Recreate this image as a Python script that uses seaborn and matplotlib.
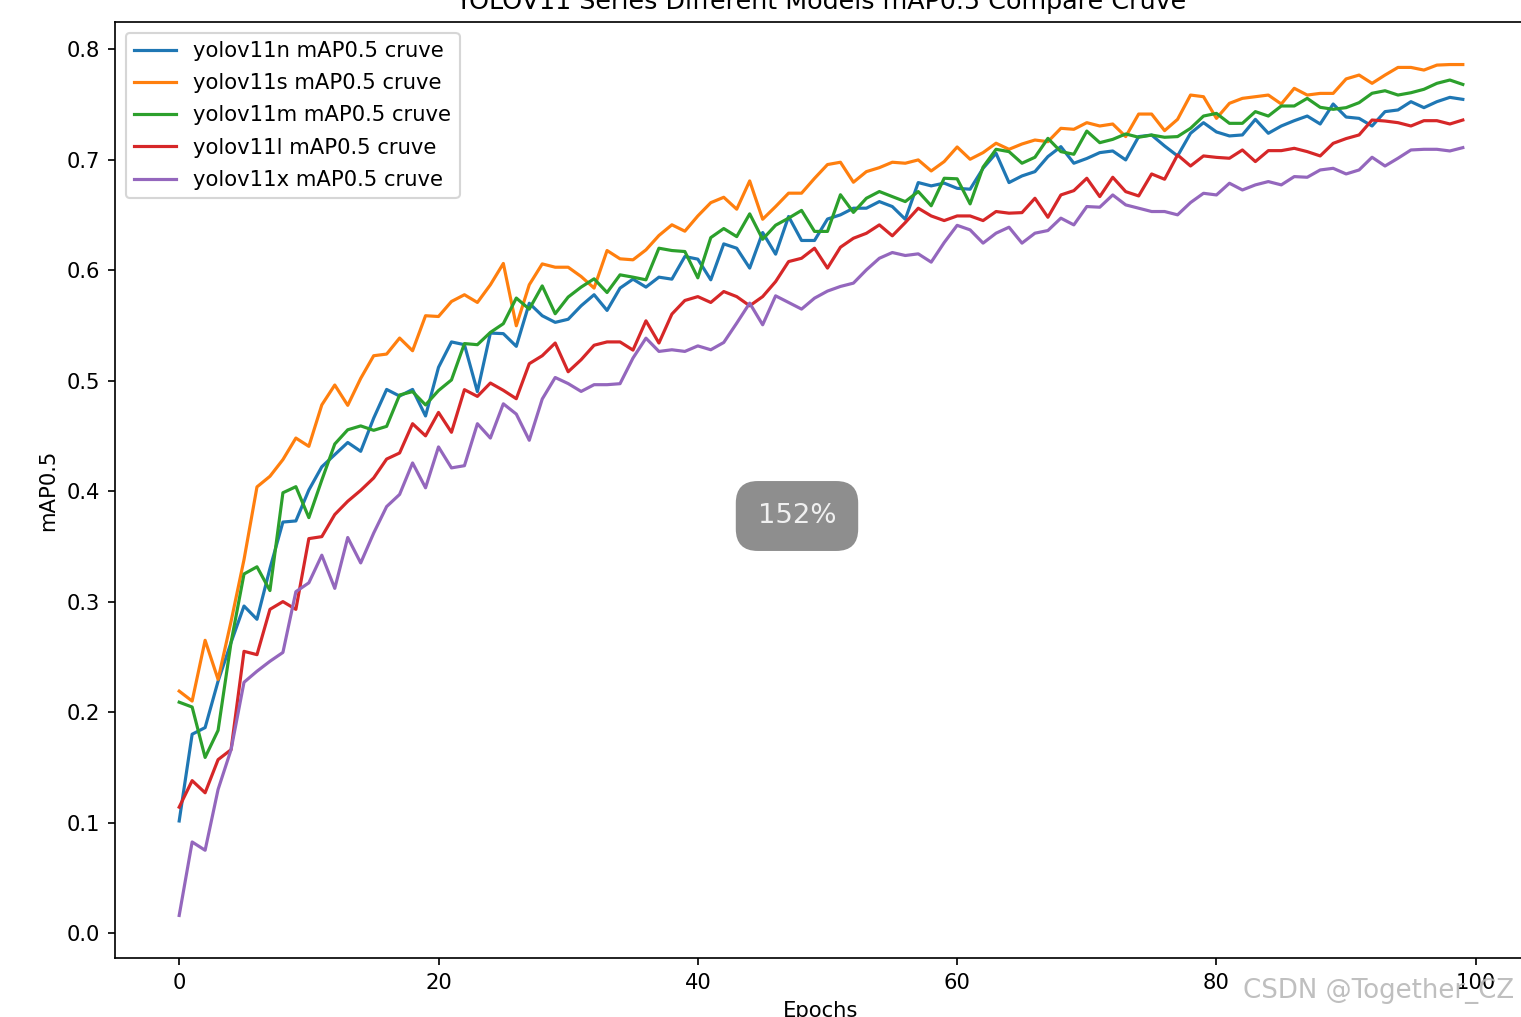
import numpy as np
import pandas as pd
import matplotlib
matplotlib.use("Agg")
import matplotlib.pyplot as plt
import seaborn as sns

epochs = list(range(100))

yolov11n = [0.1015, 0.180, 0.186, 0.228, 0.263, 0.296, 0.284, 0.330, 0.372, 0.373,
            0.401, 0.422, 0.433, 0.444, 0.436, 0.466, 0.492, 0.486, 0.492, 0.468,
            0.512, 0.535, 0.5325, 0.490, 0.543, 0.5425, 0.531, 0.570, 0.5587, 0.5527,
            0.5555, 0.5677, 0.5777, 0.5635, 0.5837, 0.5918, 0.5846, 0.5936, 0.5918, 0.6123,
            0.6099, 0.5912, 0.6237, 0.6198, 0.6018, 0.634, 0.6144, 0.6485, 0.6268, 0.6268,
            0.6462, 0.650, 0.656, 0.656, 0.662, 0.6575, 0.646, 0.6792, 0.6762, 0.6787,
            0.674, 0.6732, 0.6921, 0.7057, 0.6792, 0.6852, 0.6891, 0.7027, 0.7117, 0.6967,
            0.701, 0.7063, 0.7078, 0.6997, 0.7208, 0.7222, 0.7123, 0.7033, 0.7238, 0.7334,
            0.725, 0.7214, 0.7223, 0.7364, 0.7238, 0.7304, 0.7352, 0.7394, 0.7322, 0.7503,
            0.7385, 0.7373, 0.7304, 0.7434, 0.7449, 0.7524, 0.747, 0.7524, 0.7563, 0.7545]

yolov11s = [0.219, 0.210, 0.265, 0.2296, 0.282, 0.338, 0.4038, 0.4134, 0.4285, 0.448,
            0.4405, 0.478, 0.496, 0.4776, 0.502, 0.5225, 0.524, 0.5385, 0.527, 0.5587,
            0.558, 0.5716, 0.5777, 0.5707, 0.5867, 0.606, 0.5496, 0.5867, 0.6056, 0.6026,
            0.6026, 0.5942, 0.5837, 0.6177, 0.6102, 0.6093, 0.6183, 0.6313, 0.641, 0.6352,
            0.649, 0.661, 0.6659, 0.6551, 0.6807, 0.646, 0.6575, 0.6696, 0.6696, 0.683,
            0.6955, 0.6976, 0.6795, 0.6891, 0.6927, 0.6976, 0.6967, 0.6997, 0.6897, 0.6982,
            0.7114, 0.7003, 0.7063, 0.7148, 0.7093, 0.7141, 0.7177, 0.7162, 0.7283, 0.7274,
            0.7334, 0.7304, 0.7322, 0.7208, 0.7412, 0.7412, 0.7262, 0.7364, 0.7584, 0.7569,
            0.7373, 0.7509, 0.7554, 0.7569, 0.7584, 0.7503, 0.7645, 0.7584, 0.7599, 0.7599,
            0.773, 0.7765, 0.769, 0.7765, 0.7834, 0.7834, 0.781, 0.7855, 0.786, 0.786]

yolov11m = [0.209, 0.2046, 0.159, 0.1835, 0.263, 0.325, 0.3315, 0.310, 0.3985, 0.404,
            0.376, 0.410, 0.4426, 0.4555, 0.459, 0.455, 0.4586, 0.487, 0.490, 0.478,
            0.491, 0.5006, 0.5335, 0.5325, 0.5436, 0.5515, 0.5747, 0.5647, 0.5857, 0.5605,
            0.5756, 0.5846, 0.5921, 0.5797, 0.5957, 0.5936, 0.5912, 0.6198, 0.6177, 0.6168,
            0.593, 0.6294, 0.6376, 0.6303, 0.6509, 0.6279, 0.6406, 0.647, 0.654, 0.635,
            0.635, 0.6682, 0.6522, 0.665, 0.6711, 0.6665, 0.662, 0.6711, 0.6582, 0.6831,
            0.6826, 0.6599, 0.6932, 0.7093, 0.7072, 0.6967, 0.7021, 0.7192, 0.7072, 0.7048,
            0.7258, 0.7153, 0.7183, 0.7232, 0.7202, 0.7222, 0.7202, 0.7208, 0.7283, 0.7394,
            0.7418, 0.7328, 0.7328, 0.7434, 0.7394, 0.7485, 0.7485, 0.7554, 0.7473, 0.7455,
            0.747, 0.7515, 0.760, 0.7623, 0.7584, 0.7605, 0.7636, 0.769, 0.772, 0.768]

yolov11l = [0.114, 0.138, 0.127, 0.157, 0.166, 0.255, 0.252, 0.293, 0.300, 0.293,
            0.357, 0.3588, 0.3788, 0.3908, 0.4007, 0.4119, 0.429, 0.4345, 0.461, 0.450,
            0.4712, 0.4532, 0.4918, 0.4857, 0.4978, 0.4912, 0.4836, 0.5153, 0.5225, 0.534,
            0.508, 0.5189, 0.532, 0.535, 0.535, 0.5276, 0.5541, 0.534, 0.5602, 0.5725,
            0.576, 0.5707, 0.5806, 0.576, 0.5677, 0.576, 0.5896, 0.6077, 0.6107, 0.6198,
            0.6018, 0.6207, 0.6288, 0.6333, 0.6409, 0.631, 0.643, 0.656, 0.649, 0.6448,
            0.649, 0.649, 0.6448, 0.653, 0.6515, 0.652, 0.665, 0.6478, 0.668, 0.6719,
            0.6831, 0.6665, 0.684, 0.671, 0.6671, 0.687, 0.6822, 0.7042, 0.6942, 0.7033,
            0.702, 0.7012, 0.7087, 0.6982, 0.7081, 0.7081, 0.7102, 0.7072, 0.7033, 0.7147,
            0.719, 0.7223, 0.7358, 0.7349, 0.7334, 0.7304, 0.7352, 0.7352, 0.7322, 0.7358]

yolov11x = [0.016, 0.0825, 0.075, 0.130, 0.166, 0.227, 0.237, 0.246, 0.254, 0.309,
            0.317, 0.342, 0.312, 0.358, 0.335, 0.362, 0.386, 0.397, 0.4255, 0.403,
            0.440, 0.421, 0.423, 0.461, 0.448, 0.479, 0.4697, 0.446, 0.4833, 0.5028,
            0.4973, 0.4902, 0.4963, 0.4963, 0.4972, 0.5204, 0.5384, 0.5264, 0.5279, 0.5264,
            0.5314, 0.5279, 0.5345, 0.552, 0.5701, 0.5505, 0.5767, 0.5707, 0.5647, 0.5746,
            0.581, 0.5852, 0.5882, 0.6002, 0.6107, 0.6159, 0.6132, 0.6147, 0.6072, 0.6249,
            0.6405, 0.6364, 0.6244, 0.6334, 0.6388, 0.6244, 0.6334, 0.6358, 0.647, 0.6409,
            0.6575, 0.6569, 0.668, 0.659, 0.656, 0.653, 0.653, 0.650, 0.6611, 0.6695,
            0.668, 0.6786, 0.6725, 0.6771, 0.6801, 0.6771, 0.6846, 0.684, 0.6906, 0.6921,
            0.687, 0.6906, 0.7021, 0.6942, 0.7012, 0.7087, 0.7093, 0.7093, 0.7078, 0.7108]

models = ['yolov11n', 'yolov11s', 'yolov11m', 'yolov11l', 'yolov11x']
series = [yolov11n, yolov11s, yolov11m, yolov11l, yolov11x]
colors = sns.color_palette("tab10", 5)

fig = plt.figure(figsize=(1521 / 152, 1017 / 152), dpi=152)
ax = fig.add_axes([115 / 1521, 59 / 1017, 1412 / 1521, 936 / 1017])

for name, vals, c in zip(models, series, colors):
    df = pd.DataFrame({'Epochs': epochs, 'mAP0.5': vals})
    sns.lineplot(data=df, x='Epochs', y='mAP0.5', color=c, linewidth=1.5,
                 label='{} mAP0.5 cruve'.format(name), ax=ax)

ax.set_title('YOLOV11 Series Different Models mAP0.5 Compare Cruve')
ax.set_xlabel('Epochs')
ax.set_ylabel('mAP0.5')
ax.legend(loc='upper left', labelspacing=0.58)

# screenshot overlays
fig.text(797 / 1521, 1 - 516 / 1017, '152%', color='#f0f0f0', fontsize=13,
         ha='center', va='center',
         bbox=dict(boxstyle='round,pad=0.8', fc='#8e8e8e', ec='none'))
fig.text(1243 / 1521, 1 - 991 / 1017, 'CSDN @Together_CZ', color='#b8b8b8',
         fontsize=12.3, ha='left', va='center', alpha=0.9)

fig.savefig('out.png', dpi=152)
